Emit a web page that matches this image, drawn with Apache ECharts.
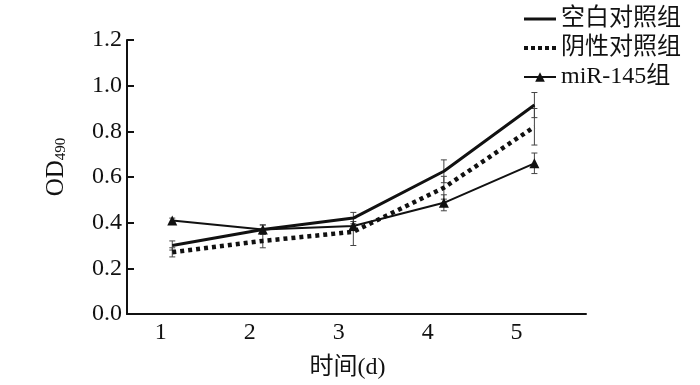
<!DOCTYPE html>
<html>
<head>
<meta charset="utf-8">
<script src="https://cdn.jsdelivr.net/npm/echarts@6/dist/echarts.min.js"></script>
<style>
  html, body { margin: 0; padding: 0; background: #fff; }
  #main { width: 700px; height: 385px; }
</style>
</head>
<body>
<div id="main"></div>
<script>
// 时间(d)
const days = [1, 2, 3, 4, 5]
const seriesNames = ['空白对照组', '阴性对照组', 'miR-145组']
// OD490 means
const blankMean = [0.30, 0.37, 0.42, 0.625, 0.915]
const negMean = [0.27, 0.32, 0.36, 0.553, 0.82]
const mirMean = [0.41, 0.37, 0.385, 0.487, 0.66]
// standard deviations (error bars)
const blankSd = [0.02, 0.02, 0.025, 0.05, 0.055]
const negSd = [0.02, 0.03, 0.06, 0.05, 0.08]
const mirSd = [0.01, 0.02, 0.02, 0.035, 0.045]

const font = '"Liberation Serif", "Noto Sans CJK SC", serif'

function pairs(mean) {
  return days.map((d, i) => [d, mean[i]])
}
function bars(mean, sd) {
  return days.map((d, i) => [d, mean[i] - sd[i], mean[i] + sd[i]])
}

function errorSeries(data) {
  return {
    type: 'custom',
    xAxisIndex: 1,
    z: 1,
    silent: true,
    data: data,
    renderItem: function (params, api) {
      const x = api.value(0)
      const lo = api.coord([x, api.value(1)])
      const hi = api.coord([x, api.value(2)])
      const w = 3
      const style = { stroke: '#444', lineWidth: 1 }
      return {
        type: 'group',
        children: [
          { type: 'line', shape: { x1: lo[0], y1: lo[1], x2: hi[0], y2: hi[1] }, style: style },
          { type: 'line', shape: { x1: lo[0] - w, y1: lo[1], x2: lo[0] + w, y2: lo[1] }, style: style },
          { type: 'line', shape: { x1: hi[0] - w, y1: hi[1], x2: hi[0] + w, y2: hi[1] }, style: style },
        ],
      }
    },
  }
}

const chart = echarts.init(document.getElementById('main'))
chart.setOption({
  animation: false,
  textStyle: { fontFamily: font },
  legend: {
    orient: 'vertical',
    right: 14,
    top: 2,
    itemWidth: 32,
    itemHeight: 12,
    itemGap: 5,
    data: [
      { name: seriesNames[0], itemStyle: { opacity: 0 }, lineStyle: { width: 3 } },
      { name: seriesNames[1], itemStyle: { opacity: 0 }, lineStyle: { width: 4, type: [4, 3] } },
      { name: seriesNames[2], lineStyle: { width: 2 } },
    ],
    textStyle: { color: '#111', fontSize: 24, fontFamily: font },
  },
  grid: {
    left: 127,
    top: 40,
    right: 114,
    bottom: 70,
  },
  xAxis: [
    {
      type: 'value',
      min: 0.62,
      max: 5.78,
      name: '时间(d)',
      nameLocation: 'middle',
      nameGap: 42,
      nameTextStyle: { color: '#111', fontSize: 24, fontFamily: font, padding: [0, 18, 0, 0] },
      axisLine: { lineStyle: { color: '#111', width: 2 } },
      axisTick: { show: false },
      splitLine: { show: false },
      axisLabel: {
        customValues: days,
        color: '#111',
        fontSize: 24,
        margin: 7,
        fontFamily: font,
      },
    },
    {
      type: 'value',
      min: 0.5,
      max: 5.57,
      show: false,
      splitLine: { show: false },
    },
  ],
  yAxis: {
    type: 'value',
    min: 0,
    max: 1.2,
    interval: 0.2,
    name: 'OD{sub|490}',
    nameLocation: 'middle',
    nameRotate: 90,
    nameGap: 58,
    nameTextStyle: {
      color: '#111',
      fontSize: 25,
      fontFamily: font,
      padding: [0, 0, 0, 20],
      rich: {
        sub: { fontSize: 15, verticalAlign: 'bottom', padding: [10, 0, 0, 0], fontFamily: font, color: '#111' },
      },
    },
    axisLine: { show: true, lineStyle: { color: '#111', width: 2 } },
    axisTick: { show: true, inside: true, length: 7, lineStyle: { color: '#111', width: 2 } },
    splitLine: { show: false },
    axisLabel: {
      color: '#111',
      fontSize: 24,
      margin: 5,
      fontFamily: font,
      formatter: (v) => v.toFixed(1),
    },
  },
  series: [
    errorSeries(bars(blankMean, blankSd)),
    errorSeries(bars(negMean, negSd)),
    errorSeries(bars(mirMean, mirSd)),
    {
      name: seriesNames[0],
      type: 'line',
      xAxisIndex: 1,
      z: 3,
      symbol: 'none',
      data: pairs(blankMean),
      lineStyle: { color: '#111', width: 3 },
      itemStyle: { color: '#111' },
    },
    {
      name: seriesNames[1],
      type: 'line',
      xAxisIndex: 1,
      z: 3,
      symbol: 'none',
      data: pairs(negMean),
      lineStyle: { color: '#111', width: 4.5, type: [4, 4], cap: 'butt' },
      itemStyle: { color: '#111' },
    },
    {
      name: seriesNames[2],
      type: 'line',
      xAxisIndex: 1,
      z: 3,
      symbol: 'triangle',
      symbolSize: 10,
      data: pairs(mirMean),
      lineStyle: { color: '#111', width: 2 },
      itemStyle: { color: '#111' },
    },
  ],
})
</script>
</body>
</html>
